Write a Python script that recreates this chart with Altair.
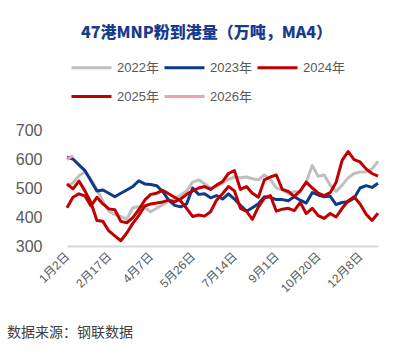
import altair as alt
import pandas as pd

# ---- data (weekly, MA4, 万吨) ----
series_names = ['2022年', '2023年', '2024年', '2025年', '2026年']
series_colors = ['#BFBFBF', '#0E3A8A', '#C00000', '#C00000', '#F2A2AA']

tick_positions = [0, 7, 14, 21, 28, 35, 42, 49]
tick_labels = ['1月2日', '2月17日', '4月7日', '5月26日', '7月14日', '9月1日', '10月20日', '12月8日']

v2022 = [505, 518, 542, 555, 530, 495, 455, 420, 408, 402, 392, 432, 435, 432, 418, 430, 442, 455,
         462, 475, 490, 520, 528, 515, 500, 505, 516, 530, 538, 535, 538, 532, 528, 545, 530, 500,
         493, 482, 487, 488, 520, 578, 540, 545, 510, 488, 510, 535, 550, 555, 556, 566, 592]
v2023 = [606, 600, 580, 560, 525, 490, 493, 482, 470, 482, 493, 505, 525, 514, 512, 508, 488, 458,
         440, 435, 445, 500, 478, 480, 466, 474, 462, 480, 462, 440, 420, 432, 446, 470, 468, 460,
         460, 456, 470, 458, 448, 484, 476, 470, 472, 443, 450, 453, 465, 500, 508, 502, 516]
v2024 = [514, 497, 524, 490, 450, 388, 385, 352, 335, 318, 345, 378, 405, 438, 445, 448, 452, 458,
         452, 462, 478, 490, 500, 505, 495, 510, 522, 550, 560, 495, 505, 482, 468, 528, 538, 545,
         495, 488, 470, 490, 520, 500, 482, 474, 484, 520, 595, 626, 598, 590, 566, 550, 541]
v2025 = [432, 468, 480, 473, 438, 468, 445, 428, 425, 385, 380, 398, 425, 458, 478, 482, 492, 480,
         468, 455, 430, 402, 407, 403, 418, 458, 480, 505, 490, 430, 420, 392, 435, 465, 474, 420,
         427, 430, 422, 450, 412, 430, 405, 395, 412, 400, 430, 455, 470, 445, 410, 388, 413]
v2026 = [598, 612]

source_text = '数据来源：钢联数据'
title_text = '47港MNP粉到港量（万吨，MA4）'

rows = []
for k, (name, vals) in enumerate(zip(series_names, [v2022, v2023, v2024, v2025, v2026])):
    for i, v in enumerate(vals):
        rows.append({'week': i, 'value': v, 'series': name, 'k': k})
df = pd.DataFrame(rows)

label_expr = '[' + ','.join("'%s'" % t for t in tick_labels) + '][round(datum.value/7)]'

lines = alt.Chart(df).mark_line(strokeWidth=3, strokeJoin='round').encode(
    x=alt.X('week:Q',
            scale=alt.Scale(domain=[0, 52], nice=False, zero=False),
            axis=alt.Axis(values=tick_positions, labelExpr=label_expr, labelAngle=-45,
                          labelAlign='right', labelBaseline='middle', ticks=False, grid=False,
                          domainColor='#D9D9D9', domainWidth=2, labelColor='#595959',
                          labelFontSize=12, labelPadding=8, title=None, labelOverlap=False,
                          labelFont='Liberation Sans, Noto Sans CJK SC')),
    y=alt.Y('value:Q',
            scale=alt.Scale(domain=[300, 700], nice=False, zero=False),
            axis=alt.Axis(values=[300, 400, 500, 600, 700], domain=False, ticks=False, grid=False,
                          labelColor='#595959', labelFontSize=16, labelPadding=25, title=None,
                          labelFont='Liberation Sans')),
    color=alt.Color('series:N',
                    scale=alt.Scale(domain=series_names, range=series_colors),
                    legend=alt.Legend(orient='none', legendX=3, legendY=-84, columns=3,
                                      direction='horizontal',
                                      title=None, symbolType='stroke', symbolSize=1600,
                                      symbolStrokeWidth=3, labelFontSize=13,
                                      labelColor='#595959', labelOffset=4,
                                      labelFont='Liberation Sans, Noto Sans CJK SC',
                                      columnPadding=-1, rowPadding=-1)),
    order=alt.Order('k:Q'),
)

source = alt.Chart(pd.DataFrame({'t': [source_text]})).mark_text(
    align='left', baseline='middle', fontSize=14, color='#404040', font='Noto Sans CJK SC'
).encode(text='t:N', x=alt.value(-60), y=alt.value(203))

chart = alt.layer(lines, source).properties(
    width=311, height=116,
    autosize=alt.AutoSizeParams(type='none'),
    padding={'left': 67, 'top': 130, 'right': 35, 'bottom': 108},
    title=alt.TitleParams(text=title_text, font='Noto Sans CJK SC', fontSize=16,
                          fontWeight=900, color='#173C8C', anchor='middle',
                          dx=-16, offset=5),
).configure_view(stroke=None)

chart.save('out.html', embed_options={'renderer': 'svg', 'actions': False})
